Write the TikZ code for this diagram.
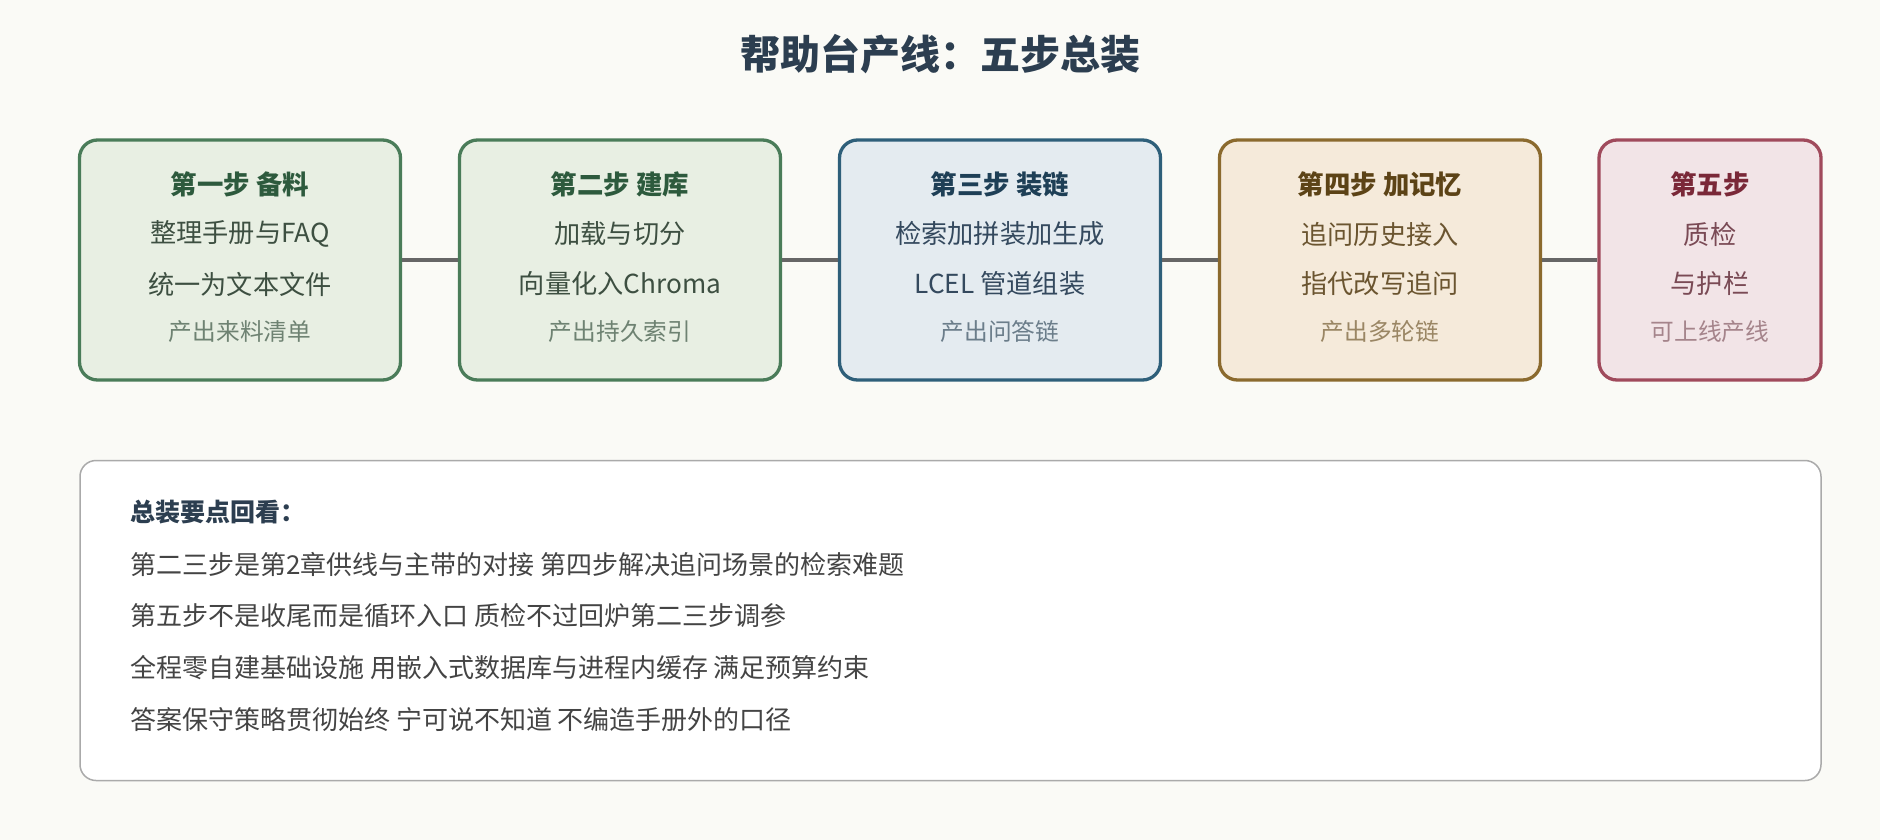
\documentclass[tikz,border=0pt]{standalone}
\usepackage{fontspec}
\setmainfont{Noto Sans CJK SC}
\begin{document}
\begin{tikzpicture}[x=1pt,y=-1pt,
  stepbox/.style={draw,line width=3.3pt,rounded corners=18pt,minimum height=240pt,inner sep=0pt},
  steptitle/.style={font=\fontsize{26.4}{30}\selectfont\bfseries,inner sep=0pt},
  stepline/.style={font=\fontsize{26.2}{30}\selectfont,inner sep=0pt},
  stepnote/.style={font=\fontsize{23.7}{27}\selectfont,inner sep=0pt},
  link/.style={draw=linkgray,line width=3.5pt},
  recapline/.style={font=\fontsize{26}{30}\selectfont,text=recaptext,anchor=west,inner sep=0pt}]
\definecolor{bgcol}{HTML}{FAFAF6}
\definecolor{linkgray}{HTML}{666666}
\definecolor{gBorder}{HTML}{4A7C59}\definecolor{gFill}{HTML}{E8EFE3}
\definecolor{gTitle}{HTML}{2D5A3D}\definecolor{gText}{HTML}{3D4F41}\definecolor{gNote}{HTML}{6E8272}
\definecolor{bBorder}{HTML}{2E5F7A}\definecolor{bFill}{HTML}{E4EBF0}
\definecolor{bTitle}{HTML}{1E3F56}\definecolor{bText}{HTML}{34495E}\definecolor{bNote}{HTML}{6B7D8A}
\definecolor{yBorder}{HTML}{8B6A2E}\definecolor{yFill}{HTML}{F5EADA}
\definecolor{yTitle}{HTML}{5C4316}\definecolor{yText}{HTML}{6B5530}\definecolor{yNote}{HTML}{9A8664}
\definecolor{rBorder}{HTML}{A04A5C}\definecolor{rFill}{HTML}{F2E4E7}
\definecolor{rTitle}{HTML}{7A2838}\definecolor{rText}{HTML}{7A4A55}\definecolor{rNote}{HTML}{A5848B}
\definecolor{recapborder}{HTML}{AAAAAA}
\definecolor{recaphead}{HTML}{2C3E50}
\definecolor{recaptext}{HTML}{444444}
\useasboundingbox[fill=bgcol] (0,0) rectangle (1880,840);
% title
\node[font=\fontsize{40}{46}\selectfont\bfseries,text=recaphead,inner sep=0pt] (title) at (940,54) {帮助台产线：五步总装};
% step boxes
\node[stepbox,draw=gBorder,fill=gFill,minimum width=321pt] (s1) at (240,260) {};
\node[stepbox,draw=gBorder,fill=gFill,minimum width=321pt] (s2) at (620,260) {};
\node[stepbox,draw=bBorder,fill=bFill,minimum width=321pt] (s3) at (1000,260) {};
\node[stepbox,draw=yBorder,fill=yFill,minimum width=321pt] (s4) at (1380,260) {};
\node[stepbox,draw=rBorder,fill=rFill,minimum width=222pt] (s5) at (1710,260) {};
% connectors
\draw[link] (s1.east) -- (s2.west);
\draw[link] (s2.east) -- (s3.west);
\draw[link] (s3.east) -- (s4.west);
\draw[link] (s4.east) -- (s5.west);
% box texts
\node[steptitle,text=gTitle] (s1t) at (240,184) {第一步 备料};
\node[stepline,text=gText] (s1a) at (240,234) {整理手册与FAQ};
\node[stepline,text=gText] (s1b) at (240,284) {统一为文本文件};
\node[stepnote,text=gNote] (s1c) at (240,332) {产出来料清单};
\node[steptitle,text=gTitle] (s2t) at (620,184) {第二步 建库};
\node[stepline,text=gText] (s2a) at (620,234) {加载与切分};
\node[stepline,text=gText] (s2b) at (620,284) {向量化入Chroma};
\node[stepnote,text=gNote] (s2c) at (620,332) {产出持久索引};
\node[steptitle,text=bTitle] (s3t) at (1000,184) {第三步 装链};
\node[stepline,text=bText] (s3a) at (1000,234) {检索加拼装加生成};
\node[stepline,text=bText] (s3b) at (1000,284) {LCEL 管道组装};
\node[stepnote,text=bNote] (s3c) at (1000,332) {产出问答链};
\node[steptitle,text=yTitle] (s4t) at (1380,184) {第四步 加记忆};
\node[stepline,text=yText] (s4a) at (1380,234) {追问历史接入};
\node[stepline,text=yText] (s4b) at (1380,284) {指代改写追问};
\node[stepnote,text=yNote] (s4c) at (1380,332) {产出多轮链};
\node[steptitle,text=rTitle] (s5t) at (1710,184) {第五步};
\node[stepline,text=rText] (s5a) at (1710,234) {质检};
\node[stepline,text=rText] (s5b) at (1710,284) {与护栏};
\node[stepnote,text=rNote] (s5c) at (1710,332) {可上线产线};
% recap box
\node[draw=recapborder,fill=white,line width=1.5pt,rounded corners=16pt,minimum width=1741pt,minimum height=320pt,inner sep=0pt] (recap) at (950.5,620.5) {};
\node[font=\fontsize{25}{29}\selectfont\bfseries,text=recaphead,anchor=west,inner sep=0pt] (rh) at (130,512) {总装要点回看：};
\node[recapline] (r1) at (130,564) {第二三步是第2章供线与主带的对接 第四步解决追问场景的检索难题};
\node[recapline] (r2) at (130,616) {第五步不是收尾而是循环入口 质检不过回炉第二三步调参};
\node[recapline] (r3) at (130,668) {全程零自建基础设施 用嵌入式数据库与进程内缓存 满足预算约束};
\node[recapline] (r4) at (130,720) {答案保守策略贯彻始终 宁可说不知道 不编造手册外的口径};
\end{tikzpicture}
\end{document}
